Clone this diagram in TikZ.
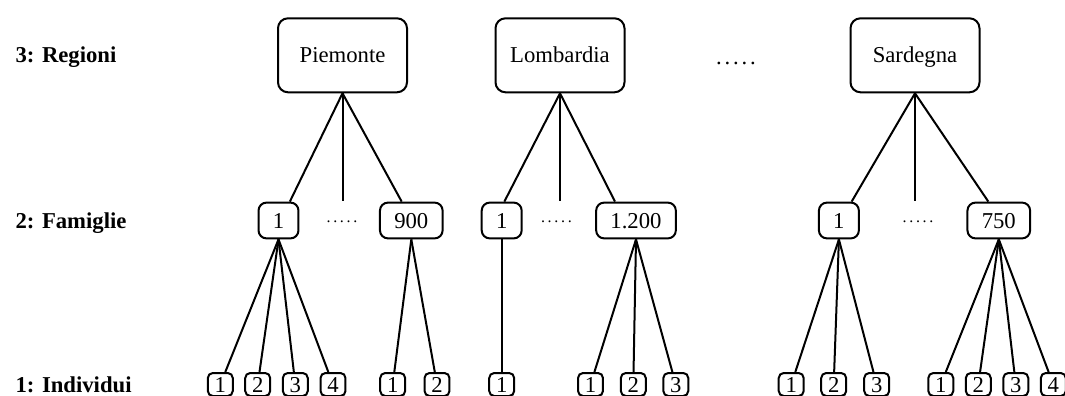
\documentclass[tikz,border=0pt]{standalone}
\usepackage{fontspec}
\setmainfont{Liberation Serif}
% a row of five spaced dots
\newcommand\spdots[1]{.\kern#1.\kern#1.\kern#1.\kern#1.}

\begin{document}
\begin{tikzpicture}[x=1pt,y=-1pt,
  every node/.style={font=\fontsize{22.7}{27}\selectfont},
  link/.style={line width=2pt},
  region/.style={draw, line width=2pt, rounded corners=10pt,
    minimum width=129pt, minimum height=74pt, inner sep=0pt,
    text height=15pt, text depth=0pt},
  family/.style={draw, line width=2pt, rounded corners=8pt,
    minimum height=35.8pt, inner xsep=14.3pt, inner ysep=0pt,
    text height=15pt, text depth=0pt},
  person/.style={draw, line width=2pt, rounded corners=5pt,
    minimum height=23pt, inner xsep=6.8pt, inner ysep=0pt,
    text height=15pt, text depth=0pt},
  level/.style={anchor=base west, font=\fontsize{22.7}{27}\selectfont\bfseries},
  gap/.style={anchor=base}]

\useasboundingbox (0,0) rectangle (1065,396);

% level labels
\node[level] (l3) at (12,63) {3: Regioni};
\node[level] (l2) at (12,228) {2: Famiglie};
\node[level] (l1) at (12,392) {1: Individui};

% regions
\node[region] (P) at (342.5,55.3) {Piemonte};
\node[region] (L) at (560,55.3) {Lombardia};
\node[region] (S) at (915,55.3) {Sardegna};
\node[gap] (rdots) at (736,64.5) {\spdots{2.8pt}};

% families
\coordinate (row2) at (0,201);
\node[family] (P1) at (278.5,220.5) {1};
\node[family] (P900) at (411.3,220.5) {900};
\node[family] (L1) at (501.7,220.5) {1};
\node[family] (L1200) at (636,220.5) {1.200};
\node[family] (S1) at (838.9,220.5) {1};
\node[family] (S750) at (998.8,220.5) {750};
\node[gap, font=\fontsize{16}{19}\selectfont] (Pdots) at (342,222) {\spdots{2.7pt}};
\node[gap, font=\fontsize{16}{19}\selectfont] (Ldots) at (556.4,222) {\spdots{2.7pt}};
\node[gap, font=\fontsize{16}{19}\selectfont] (Sdots) at (918,222) {\spdots{2.7pt}};
\coordinate (Pm) at (P.south |- row2);
\coordinate (Lm) at (L.south |- row2);
\coordinate (Sm) at (S.south |- row2);

% individuals
\node[person] (p11) at (220.3,384.5) {1};
\node[person] (p12) at (257.7,384.5) {2};
\node[person] (p13) at (295.3,384.5) {3};
\node[person] (p14) at (333,384.5) {4};
\node[person] (p21) at (392.7,384.5) {1};
\node[person] (p22) at (437,384.5) {2};
\node[person] (q11) at (501.7,384.5) {1};
\node[person] (q21) at (590.5,384.5) {1};
\node[person] (q22) at (633.3,384.5) {2};
\node[person] (q23) at (675.8,384.5) {3};
\node[person] (s11) at (791.2,384.5) {1};
\node[person] (s12) at (833.7,384.5) {2};
\node[person] (s13) at (876.7,384.5) {3};
\node[person] (s21) at (940.8,384.5) {1};
\node[person] (s22) at (978.3,384.5) {2};
\node[person] (s23) at (1015.8,384.5) {3};
\node[person] (s24) at (1053.3,384.5) {4};

% region -> families
\draw[link] (P.south) -- (P1.59);
\draw[link] (P.south) -- (Pm);
\draw[link] (P.south) -- (P900.117);
\draw[link] (L.south) -- (L1.82);
\draw[link] (L.south) -- (Lm);
\draw[link] (L.south) -- (L1200.138);
\draw[link] (S.south) -- (S1.56);
\draw[link] (S.south) -- (Sm);
\draw[link] (S.south) -- (S750.119);

% families -> individuals
\foreach \c in {p11,p12,p13,p14} \draw[link] (P1.south) -- (\c);
\foreach \c in {p21,p22} \draw[link] (P900.south) -- (\c);
\draw[link] (L1.south) -- (q11);
\foreach \c in {q21,q22,q23} \draw[link] (L1200.south) -- (\c);
\foreach \c in {s11,s12,s13} \draw[link] (S1.south) -- (\c);
\foreach \c in {s21,s22,s23,s24} \draw[link] (S750.south) -- (\c);
\end{tikzpicture}
\end{document}
